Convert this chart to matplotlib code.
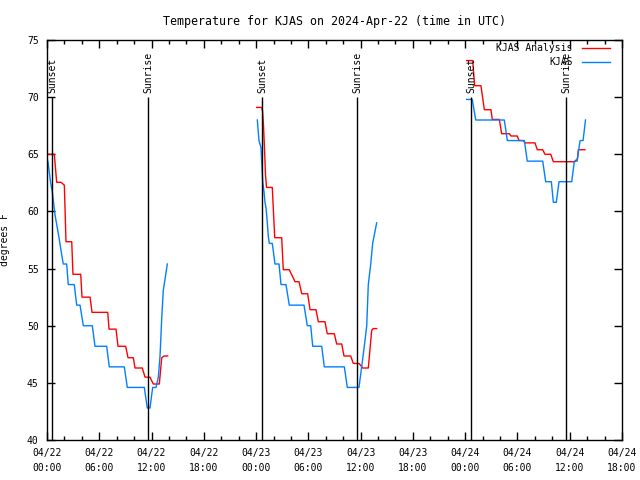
import numpy as np
import matplotlib.pyplot as plt

nan = np.nan

# hours since 2024-04-22 00:00 UTC, temperatures in F (nan = gap)
analysis_hours = [0, 0.84, 1.11, 1.61, 1.99, 2.18, 2.84, 2.98, 3.87, 4.02, 4.94, 5.17, 6.97, 7.12,
                  7.92, 8.15, 9.03, 9.30, 9.91, 10.10, 10.94, 11.25, 11.82, 12.20, 12.89, 13.17,
                  13.43, 13.85, nan,
                  24.07, 24.64, 24.74, 24.85, 24.97, 25.08, 25.20, 25.86, 26.14, 26.94, 27.12,
                  27.81, 28.47, 28.93, 29.24, 29.92, 30.19, 30.88, 31.14, 31.91, 32.17, 32.98,
                  33.25, 33.83, 34.09, 34.86, 35.16, 35.81, 36.24, 36.88, 37.27, 37.45, 37.84, nan,
                  48.17, 48.86, 49.09, 49.81, 50.20, 50.96, 51.11, 51.92, 52.19, 53.07, 53.26,
                  53.98, 54.18, 54.67, 54.87, 56.01, 56.28, 56.90, 57.16, 57.82, 58.12, 60.61,
                  60.72, 60.87, 60.99, 61.75]
analysis_temps = [65.0, 65.0, 62.55, 62.55, 62.3, 57.35, 57.35, 54.5, 54.5, 52.5, 52.5, 51.17, 51.17,
                  49.7, 49.7, 48.2, 48.2, 47.2, 47.2, 46.3, 46.3, 45.5, 45.5, 44.9, 44.9, 47.2,
                  47.35, 47.35, nan,
                  69.1, 69.1, 68.8, 67.5, 65.4, 63.2, 62.1, 62.1, 57.7, 57.7, 54.9, 54.9, 53.85,
                  53.85, 52.8, 52.8, 51.4, 51.4, 50.35, 50.35, 49.3, 49.3, 48.4, 48.4, 47.35,
                  47.35, 46.7, 46.7, 46.3, 46.3, 49.6, 49.75, 49.75, nan,
                  73.2, 73.2, 71.0, 71.0, 68.9, 68.9, 68.05, 68.05, 66.8, 66.8, 66.6, 66.6, 66.2,
                  66.2, 66.0, 66.0, 65.4, 65.4, 65.0, 65.0, 64.35, 64.35, 64.5, 64.5, 65.4, 65.4]

obs_hours = [0.10, 0.40, 0.61, 0.92, 1.38, 1.69, 1.87, 2.26, 2.44, 3.13, 3.41, 3.79, 4.17, 5.20,
             5.51, 6.85, 7.15, 8.87, 9.22, 11.17, 11.51, 11.82, 12.13, 12.51, 12.78, 12.97, 13.17,
             13.35, 13.81, nan,
             24.14, 24.33, 24.56, 24.64, 24.76, 24.91, 25.02, 25.14, 25.29, 25.40, 25.52, 25.86,
             26.17, 26.63, 26.86, 27.43, 27.81, 29.50, 29.88, 30.27, 30.50, 31.53, 31.83, 34.13,
             34.47, 35.81, 36.12, 36.42, 36.70, 36.88, 37.16, 37.38, 37.84, nan,
             48.17, 48.81, 49.21, 52.49, 52.84, 54.79, 55.13, 56.90, 57.24, 57.89, 58.12, 58.46,
             58.77, 60.23, 60.53, 60.84, 61.19, 61.53, 61.81]
obs_temps = [64.4, 62.6, 61.7, 59.7, 57.7, 56.2, 55.4, 55.4, 53.6, 53.6, 51.8, 51.8, 50.0, 50.0,
             48.2, 48.2, 46.4, 46.4, 44.6, 44.6, 42.8, 42.8, 44.6, 44.6, 45.5, 47.3, 50.7,
             53.1, 55.4, nan,
             68.0, 66.2, 65.6, 64.4, 62.6, 61.7, 60.8, 60.3, 59.0, 57.8, 57.2, 57.2,
             55.4, 55.4, 53.6, 53.6, 51.8, 51.8, 50.0, 50.0, 48.2, 48.2, 46.4, 46.4,
             44.6, 44.6, 46.4, 48.2, 50.0, 53.6, 55.4, 57.2, 59.0, nan,
             69.8, 69.8, 68.0, 68.0, 66.2, 66.2, 64.4, 64.4, 62.6, 62.6, 60.8, 60.8,
             62.6, 62.6, 64.4, 64.4, 66.2, 66.2, 68.0]

event_hours = [0.61, 11.63, 24.71, 35.62, 48.67, 59.60]
event_names = ['Sunset', 'Sunrise', 'Sunset', 'Sunrise', 'Sunset', 'Sunrise']

tick_hours = list(range(0, 67, 6))
tick_labels = ['04/22\n00:00', '04/22\n06:00', '04/22\n12:00', '04/22\n18:00',
               '04/23\n00:00', '04/23\n06:00', '04/23\n12:00', '04/23\n18:00',
               '04/24\n00:00', '04/24\n06:00', '04/24\n12:00', '04/24\n18:00']

plt.rcParams['font.family'] = 'DejaVu Sans Mono'
plt.rcParams['font.size'] = 7

fig = plt.figure(figsize=(6.4, 4.8), dpi=100)
ax = fig.add_axes([47 / 640, 40 / 480, 575 / 640, 400 / 480])

ax.plot(analysis_hours, analysis_temps, color='#ff0000', lw=1)
ax.plot(obs_hours, obs_temps, color='#0080ff', lw=1)

ax.vlines(event_hours, 40, 70, color='black', lw=1)
for h, name in zip(event_hours, event_names):
    ax.text(h, 70.4, name, rotation=90, ha='center', va='bottom')

ax.set_xlim(0, 66)
ax.set_ylim(40, 75)
ax.set_xticks(tick_hours)
ax.set_xticklabels(tick_labels, linespacing=1.6)
ax.set_xticks(range(0, 67, 2), minor=True)
ax.set_yticks(range(40, 76, 5))
ax.tick_params(direction='in', top=True, right=True, length=6, width=1, pad=6)
ax.tick_params(which='minor', direction='in', top=True, length=3, width=1)
for s in ax.spines.values():
    s.set_linewidth(1)

ax.set_ylabel('degrees F')
ax.yaxis.set_label_coords(-0.064, 0.5)
ax.set_title('Temperature for KJAS on 2024-Apr-22 (time in UTC)', pad=11)

# legend drawn by hand (right-aligned text, gnuplot style)
ax.text(0.914, 0.979, 'KJAS Analysis', transform=ax.transAxes, ha='right', va='center')
ax.plot([0.93, 0.979], [0.979, 0.979], transform=ax.transAxes, color='#ff0000', lw=1)
ax.text(0.914, 0.944, 'KJAS', transform=ax.transAxes, ha='right', va='center')
ax.plot([0.93, 0.979], [0.944, 0.944], transform=ax.transAxes, color='#0080ff', lw=1)

fig.savefig('out.png', dpi=100)
